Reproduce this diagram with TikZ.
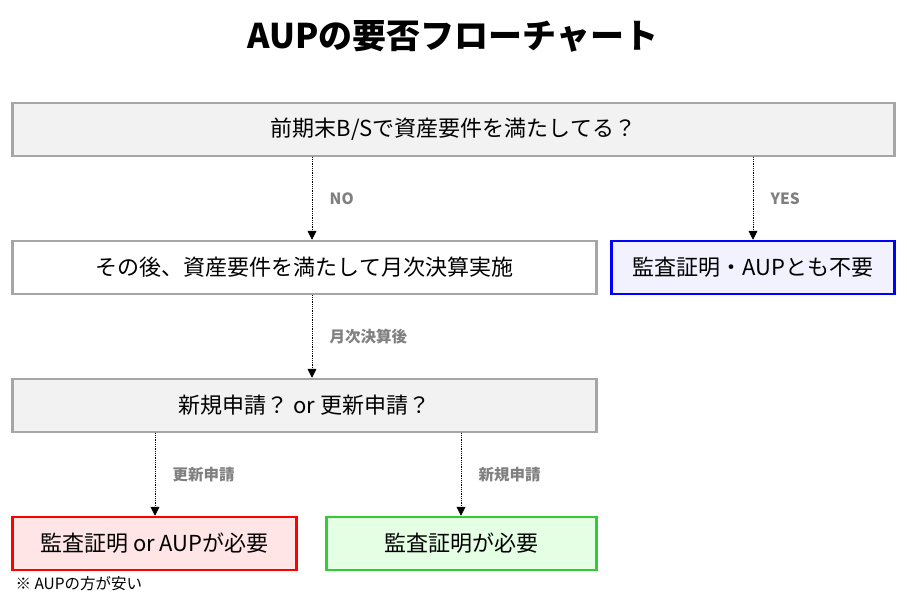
\documentclass[tikz,border=0pt]{standalone}
\usepackage{fontspec}
\setmainfont{Noto Sans CJK JP}
\usetikzlibrary{arrows.meta}
\definecolor{boxgray}{HTML}{F2F2F2}
\definecolor{linegray}{HTML}{A6A6A6}
\definecolor{labgray}{HTML}{808080}
\tikzset{
  box/.style={draw=linegray, line width=2.5pt, minimum height=53pt, font=\fontsize{22}{26}\selectfont, inner sep=0pt},
  arr/.style={densely dotted, line width=0.8pt, -{Triangle[width=9pt,length=9pt]}},
  lab/.style={anchor=west, text=labgray, font=\bfseries\fontsize{15.5}{18}\selectfont}
}
\begin{document}
\begin{tikzpicture}[x=1pt,y=-1pt]
\useasboundingbox (0,0) rectangle (907,605);
\node[font=\bfseries\fontsize{34}{40}\selectfont] (title) at (453,36) {AUPの要否フローチャート};

% boxes
\node[box, fill=boxgray, minimum width=882pt] (q1) at (453.5,129.5) {前期末B/Sで資産要件を満たしてる？};
\node[box, fill=white, minimum width=584pt] (mon) at (304.5,267.5) {その後、資産要件を満たして月次決算実施};
\node[box, fill=blue!5, draw=blue, minimum width=283pt] (none) at (753,267.5) {監査証明・AUPとも不要};
\node[box, fill=boxgray, minimum width=584pt] (q2) at (304.5,405.5) {新規申請？ or 更新申請？};
\node[box, fill=red!10, draw=red, minimum width=284pt] (both) at (154.5,543.5) {監査証明 or AUPが必要};
\node[box, fill=green!10, draw={rgb,255:red,51;green,204;blue,51}, minimum width=270pt] (audit) at (461.5,543.5) {監査証明が必要};
\node[anchor=west, font=\fontsize{15.5}{18}\selectfont] (note) at (12,584) {※ AUPの方が安い};

% connectors
\draw[arr] (q1.south -| 312,0) -- (mon.north -| 312,0) node[midway, lab, xshift=14pt] {NO};
\draw[arr] (q1.south -| 753,0) -- (none.north -| 753,0) node[midway, lab, xshift=14pt] {YES};
\draw[arr] (mon.south -| 312,0) -- (q2.north -| 312,0) node[midway, lab, xshift=14pt] {月次決算後};
\draw[arr] (q2.south -| 155,0) -- (both.north -| 155,0) node[midway, lab, xshift=14pt] {更新申請};
\draw[arr] (q2.south -| 461,0) -- (audit.north -| 461,0) node[midway, lab, xshift=14pt] {新規申請};
\end{tikzpicture}
\end{document}
